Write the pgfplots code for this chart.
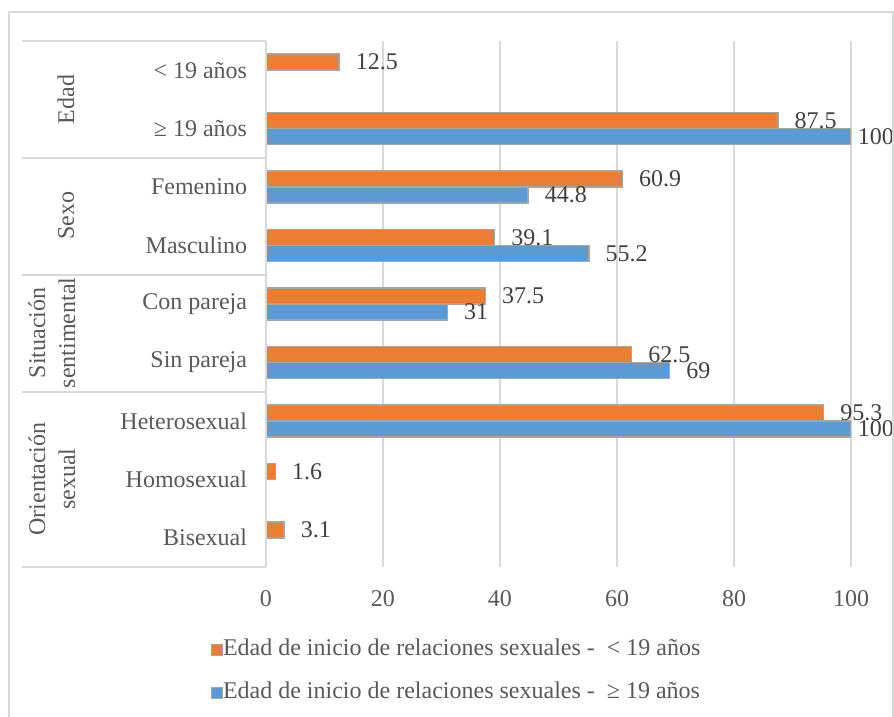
\documentclass[border=0pt]{standalone}
\usepackage{pgfplots}
\pgfplotsset{compat=1.18}
\usepackage{fontspec}
\setmainfont{Liberation Serif}
\usetikzlibrary{calc}
\definecolor{barorange}{HTML}{ED7D31}
\definecolor{barblue}{HTML}{5B9BD5}
\definecolor{baredge}{HTML}{A5A5A5}
\definecolor{gridgray}{HTML}{D9D9D9}
\definecolor{labelgray}{HTML}{595959}
\definecolor{valgray}{HTML}{404040}

\begin{document}
\fontsize{12}{15}\selectfont
\begin{tikzpicture}
\begin{axis}[
  name=ax,
  scale only axis, width=292.5pt, height=263pt,
  xbar, bar width=8pt,
  xmin=0, xmax=100, ymin=-0.5, ymax=8.5, y dir=reverse,
  xtick={0,20,...,100}, ytick={0,...,8},
  yticklabels={{< 19 años},{≥ 19 años},Femenino,Masculino,Con pareja,Sin pareja,Heterosexual,Homosexual,Bisexual},
  /pgf/number format/assume math mode=true,
  ticklabel style={font=\fontsize{12}{14}\selectfont, text=labelgray},
  xticklabel style={yshift=-7.5pt},
  yticklabel style={xshift=-1pt},
  axis line style={draw=none}, tick style={draw=none},
  xmajorgrids, grid style={draw=gridgray, line width=0.75pt},
  visualization depends on=rawx\as\rawx,
  nodes near coords,
  nodes near coords style={font=\fontsize{12}{14}\selectfont, text=valgray, anchor=west, inner sep=0pt,
    xshift={ifthenelse(\rawx>99,3,8)}},
  legend style={at={(axis description cs:-0.094,-0.135)}, anchor=north west, draw=none, fill=none,
    inner sep=0pt, outer sep=0pt, font=\fontsize{12}{14}\selectfont, text=labelgray,
    nodes={inner sep=0pt, text height=8.5pt, text depth=3pt}, row sep=10pt,
    /tikz/every even column/.append style={column sep=4pt}},
  legend cell align=left,
  legend image code/.code={\draw[#1, line width=0.5pt] (0pt,-2.75pt) rectangle (5.5pt,2.75pt);},
]
\addplot[fill=barorange, draw=baredge, line width=0.75pt, bar shift=4pt] coordinates {
  (12.5,0) (87.5,1) (60.9,2) (39.1,3) (37.5,4) (62.5,5) (95.3,6) (1.6,7) (3.1,8)};
\addlegendentry{Edad de inicio de relaciones sexuales -\ \ < 19 años}
\addplot[fill=barblue, draw=baredge, line width=0.75pt, bar shift=-4pt] coordinates {
  (100,1) (44.8,2) (55.2,3) (31,4) (69,5) (100,6)};
\addlegendentry{Edad de inicio de relaciones sexuales -\ \ ≥ 19 años}
\end{axis}
\coordinate (O) at ($(ax.south west)+(-133pt,283.5pt)$);
\begin{scope}[shift={(O)}, x=0.5pt, y=-0.5pt]
  \draw[gridgray, line width=0.75pt] (9,717) -- (9,12) -- (893,12) -- (893,717);
  \foreach \yy in {41,158,275,392,567} \draw[gridgray, line width=0.75pt] (22,\yy) -- (266,\yy);
  \draw[gridgray, line width=0.75pt] (266,41) -- (266,567);
  \node[rotate=90, text=labelgray] at (66,99.5) {Edad};
  \node[rotate=90, text=labelgray] at (66,216) {Sexo};
  \node[rotate=90, text=labelgray, align=center] at (52,333) {Situación\\sentimental};
  \node[rotate=90, text=labelgray, align=center] at (52,479) {Orientación\\sexual};
  \pgfresetboundingbox
  \path (0,0) rectangle (894,717);
\end{scope}
\end{tikzpicture}
\end{document}
